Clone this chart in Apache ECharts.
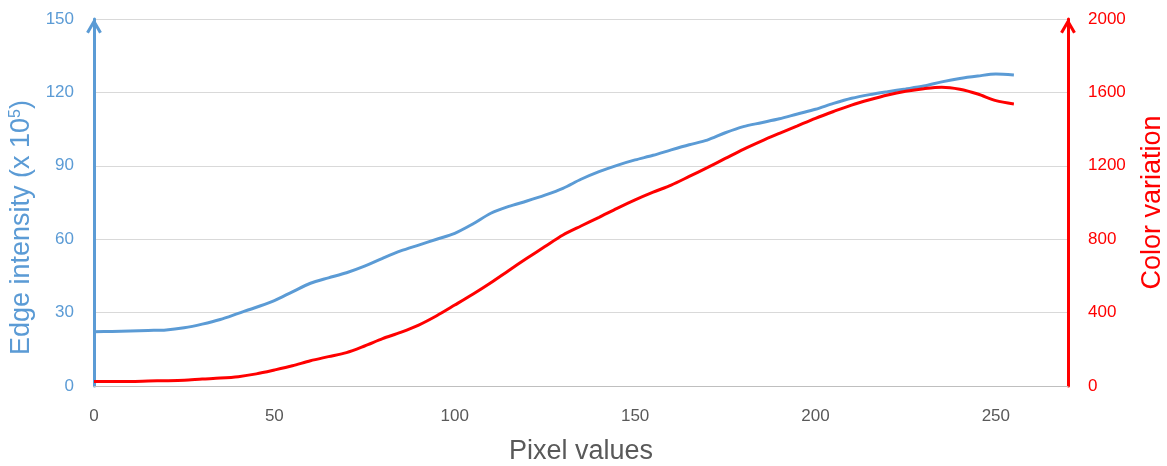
<!DOCTYPE html>
<html>
<head>
<meta charset="utf-8">
<script src="https://cdn.jsdelivr.net/npm/echarts@6/dist/echarts.min.js"></script>
<style>html,body{margin:0;padding:0;background:#fff}#c{width:1167px;height:466px}</style>
</head>
<body>
<div id="c"></div>
<script>
const pixelValues = [0,5,10,15,20,25,30,35,40,45,50,55,60,65,70,75,80,85,90,95,100,105,110,115,120,125,130,135,140,145,150,155,160,165,170,175,180,185,190,195,200,205,210,215,220,225,230,235,240,245,250,255];
const edgeIntensity = [22.2,22.3,22.5,22.7,22.9,23.8,25.3,27.2,29.7,32.2,34.9,38.5,42.0,44.2,46.3,49.0,52.2,55.2,57.6,60.0,62.4,66.2,70.6,73.4,75.6,78.0,80.8,84.5,87.6,90.2,92.4,94.3,96.5,98.6,100.5,103.5,106.0,107.6,109.2,111.2,113.1,115.5,117.6,119.1,120.3,121.4,122.6,124.3,125.7,126.7,127.5,127.1];
const colorVariation = [25,25,25,27,29,32,38,43,51,66,87,110,138,160,182,218,258,292,332,383,441,500,563,630,696,760,823,872,919,968,1014,1056,1095,1142,1190,1240,1290,1335,1377,1418,1459,1496,1531,1560,1586,1606,1620,1628,1617,1591,1555,1537];
const xTicks = [0,50,100,150,200,250];

const blue = '#5b9bd5', red = '#ff0000';
const chevron = 'path://M0,12 L7,0 L14,12 L11.6,13.4 L7,5.4 L2.4,13.4 Z';
const chart = echarts.init(document.getElementById('c'));
chart.setOption({
  animation: false,
  grid: {left: 94, right: 99, top: 19, bottom: 80, containLabel: false, outerBoundsMode: 'none'},
  xAxis: {
    type: 'value', min: 0, max: 270, interval: 50,
    name: 'Pixel values', nameLocation: 'middle', nameGap: 52,
    nameTextStyle: {fontFamily: 'Liberation Sans', fontSize: 27, color: '#595959'},
    axisLine: {lineStyle: {color: '#bfbfbf', width: 1}},
    axisTick: {show: false},
    splitLine: {show: false},
    axisLabel: {showMaxLabel: false, margin: 22, fontFamily: 'Liberation Sans', fontSize: 17, color: '#595959',
      formatter: v => xTicks.includes(v) ? String(v) : ''}
  },
  yAxis: [{
    type: 'value', min: 0, max: 150, interval: 30, position: 'left',
    name: 'Edge intensity (x 10{s|5})', nameLocation: 'middle', nameGap: 57, nameRotate: 90,
    nameTextStyle: {fontFamily: 'Liberation Sans', fontSize: 27, color: blue, padding: [0, 50, 0, 0],
      rich: {s: {fontFamily: 'Liberation Sans', fontSize: 16, color: blue, verticalAlign: 'top', padding: [0,0,12,0]}}},
    axisLine: {show: true, lineStyle: {color: blue, width: 3}, symbol: ['none', chevron], symbolSize: [16, 15], symbolOffset: [0, -7]},
    axisTick: {show: false},
    splitLine: {show: true, lineStyle: {color: '#d9d9d9', width: 1}},
    axisLabel: {margin: 20, fontFamily: 'Liberation Sans', fontSize: 17, color: blue, formatter: v => String(v)}
  }, {
    type: 'value', min: 0, max: 2000, interval: 400, position: 'right',
    name: 'Color variation', nameLocation: 'middle', nameGap: 71, nameRotate: 90,
    nameTextStyle: {fontFamily: 'Liberation Sans', fontSize: 27, color: red},
    axisLine: {show: true, lineStyle: {color: red, width: 3}, symbol: ['none', chevron], symbolSize: [16, 15], symbolOffset: [0, -7]},
    axisTick: {show: false},
    splitLine: {show: false},
    axisLabel: {margin: 20, fontFamily: 'Liberation Sans', fontSize: 17, color: red, formatter: v => String(v)}
  }],
  series: [{
    type: 'line', yAxisIndex: 0, showSymbol: false, smooth: 0.3,
    lineStyle: {color: blue, width: 3}, itemStyle: {color: blue},
    data: pixelValues.map((x, i) => [x, edgeIntensity[i]])
  }, {
    type: 'line', yAxisIndex: 1, showSymbol: false, smooth: 0.3,
    lineStyle: {color: red, width: 3}, itemStyle: {color: red},
    data: pixelValues.map((x, i) => [x, colorVariation[i]])
  }]
});
</script>
</body>
</html>
